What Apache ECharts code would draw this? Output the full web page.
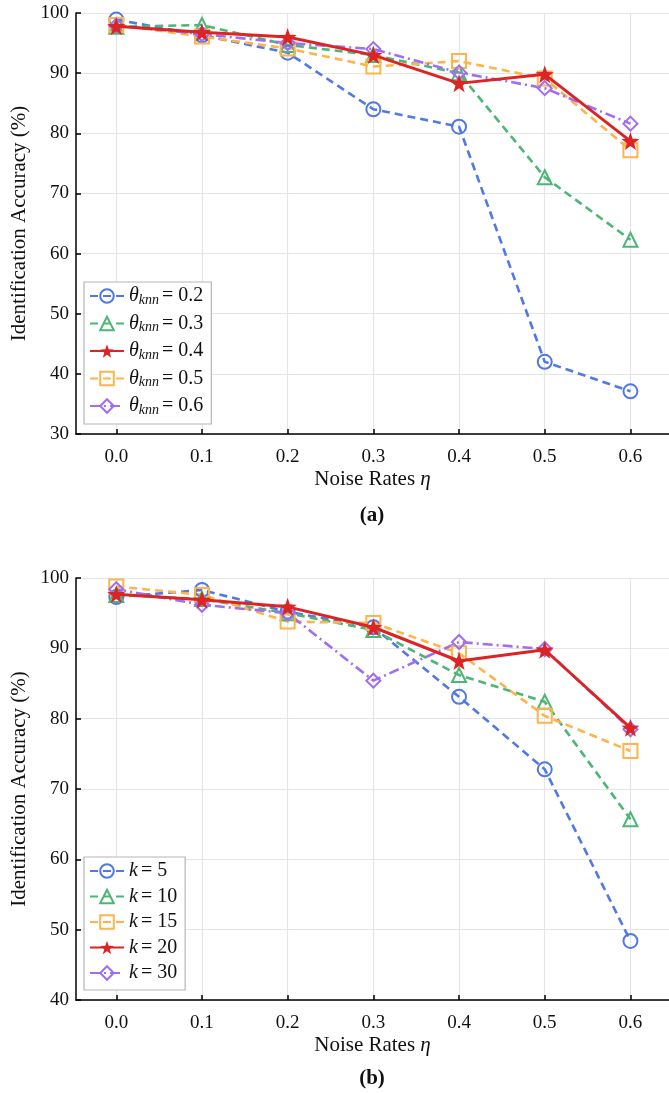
<!DOCTYPE html>
<html>
<head>
<meta charset="utf-8">
<script src="https://cdn.jsdelivr.net/npm/echarts@6/dist/echarts.min.js"></script>
<style>
  html, body { margin: 0; padding: 0; background: #fff; }
  #chart { width: 669px; height: 1093px; }
</style>
</head>
<body>
<div id="chart"></div>
<script>
// x values (noise rate)
var noiseRates = [0.0, 0.1, 0.2, 0.3, 0.4, 0.5, 0.6];

// (a) theta_knn
var thetaNames = ['0.2', '0.3', '0.4', '0.5', '0.6'];
var theta02 = [98.9, 96.3, 93.4, 84.0, 81.1, 42.0, 37.1];
var theta03 = [97.7, 98.0, 94.7, 93.0, 90.0, 72.7, 62.3];
var theta04 = [97.8, 96.8, 96.0, 93.0, 88.3, 89.8, 78.7];
var theta05 = [98.0, 96.1, 94.1, 91.1, 92.0, 89.1, 77.2];
var theta06 = [97.9, 96.5, 95.0, 94.0, 90.1, 87.5, 81.6];

// (b) k
var kNames = ['5', '10', '15', '20', '30'];
var k5  = [97.3, 98.3, 95.2, 93.0, 83.1, 72.8, 48.4];
var k10 = [97.6, 97.0, 95.0, 92.6, 86.2, 82.4, 65.7];
var k15 = [98.8, 97.6, 93.8, 93.6, 89.3, 80.4, 75.4];
var k20 = [97.7, 96.9, 95.9, 93.0, 88.2, 89.8, 78.7];
var k30 = [98.4, 96.2, 95.0, 85.4, 90.9, 89.9, 78.5];

var yTicksA = [30, 100];
var yTicksB = [40, 100];

// style slots: 0 blue circle, 1 green triangle, 2 red star, 3 orange square, 4 purple diamond
var colors = ['#5078e6', '#4db676', '#dd2424', '#fdb44b', '#a06ef2'];
var symbols = [
  'circle', 'triangle',
  'path://M0,-10 L2.35,-3.24 L9.51,-3.09 L3.8,1.24 L5.88,8.09 L0,4 L-5.88,8.09 L-3.8,1.24 L-9.51,-3.09 L-2.35,-3.24 Z',
  'rect', 'diamond'
];
var dashes = [[8, 5], [8, 5], 'solid', [8, 5], [10, 4, 2, 4]];
var styleA = [0, 1, 2, 3, 4];
var styleB = [0, 1, 3, 2, 4];

var font = '"Liberation Serif", "Times New Roman", serif';
var chart = echarts.init(document.getElementById('chart'));

function zip(vals) {
  return vals.map(function (v, i) { return [noiseRates[i], v]; });
}

function makeSeries(name, vals, idx, axisIdx) {
  var isStar = idx === 2;
  return {
    name: name,
    type: 'line',
    xAxisIndex: axisIdx,
    yAxisIndex: axisIdx,
    data: zip(vals),
    symbol: symbols[idx],
    symbolSize: isStar ? 18 : 14,
    z: isStar ? 5 : 2,
    lineStyle: {
      color: colors[idx],
      width: isStar ? 3 : 2.6,
      type: dashes[idx]
    },
    itemStyle: {
      color: isStar ? colors[idx] : 'rgba(255,255,255,0)',
      borderColor: colors[idx],
      borderWidth: isStar ? 0 : 2
    },
    emphasis: { disabled: true },
    animation: false
  };
}

function xAxis(gi) {
  return {
    type: 'value', gridIndex: gi,
    min: -0.047, max: 0.645,
    name: 'Noise Rates {e|η}',
    nameLocation: 'middle',
    nameGap: 35,
    nameTextStyle: {
      fontFamily: font, fontSize: 21, color: '#111',
      rich: { e: { fontFamily: font, fontSize: 21, fontStyle: 'italic', color: '#111' } }
    },
    axisLine: { show: true, onZero: false, lineStyle: { color: '#000', width: 1.5 } },
    axisTick: { show: true, inside: true, length: 5, customValues: noiseRates, lineStyle: { color: '#000', width: 1.5 } },
    axisLabel: {
      customValues: noiseRates, margin: 14,
      fontFamily: font, fontSize: 19, color: '#111',
      formatter: function (v) { return v.toFixed(1); }
    },
    splitLine: { show: true, lineStyle: { color: '#e5e5e5', width: 1.2 } }
  };
}

function yAxis(gi, ticks) {
  return {
    type: 'value', gridIndex: gi,
    min: ticks[0], max: ticks[1], interval: 10,
    name: 'Identification Accuracy (%)',
    nameLocation: 'middle',
    nameGap: 44,
    nameTextStyle: { fontFamily: font, fontSize: 21, color: '#111' },
    axisLine: { show: true, onZero: false, lineStyle: { color: '#000', width: 1.5 } },
    axisTick: { show: true, inside: true, length: 5, lineStyle: { color: '#000', width: 1.5 } },
    axisLabel: { margin: 7, fontFamily: font, fontSize: 19, color: '#111' },
    splitLine: { show: true, lineStyle: { color: '#e5e5e5', width: 1.2 } }
  };
}

function legend(names, top, fmt, gap) {
  return {
    data: names,
    orient: 'vertical',
    left: 84, top: top,
    padding: [4, 8, 7, 5],
    itemGap: gap,
    itemWidth: 34, itemHeight: 17,
    backgroundColor: '#fff',
    borderColor: '#b5b5b5', borderWidth: 1.2, borderRadius: 0,
    formatter: fmt,
    textStyle: {
      fontFamily: font, fontSize: 20, color: '#111',
      rich: {
        i: { fontFamily: font, fontSize: 20, fontStyle: 'italic', color: '#111', lineHeight: 22 },
        s: { fontFamily: font, fontSize: 14, fontStyle: 'italic', color: '#111', lineHeight: 10, verticalAlign: 'bottom' },
        t: { fontFamily: font, fontSize: 20, color: '#111', lineHeight: 22, padding: [0, 0, 0, 3] }
      }
    }
  };
}

var seriesA = [theta02, theta03, theta04, theta05, theta06].map(function (vals, i) {
  return makeSeries('theta' + thetaNames[i], vals, styleA[i], 0);
});
var seriesB = [k5, k10, k15, k20, k30].map(function (vals, i) {
  return makeSeries('k' + kNames[i], vals, styleB[i], 1);
});

chart.setOption({
  backgroundColor: '#fff',
  animation: false,
  grid: [
    { left: 76, right: 0, top: 13, height: 421 },
    { left: 76, right: 0, top: 578, height: 422 }
  ],
  xAxis: [xAxis(0), xAxis(1)],
  yAxis: [yAxis(0, yTicksA), yAxis(1, yTicksB)],
  legend: [
    legend(thetaNames.map(function (n) { return 'theta' + n; }), 282, function (name) {
      return '{i|θ}{s|knn}{t|= ' + name.replace('theta', '') + '}';
    }, 6.5),
    legend(kNames.map(function (n) { return 'k' + n; }), 857, function (name) {
      return '{i|k}{t|= ' + name.replace('k', '') + '}';
    }, 5.5)
  ],
  graphic: [
    { type: 'text', x: 372, y: 516, style: { text: '(a)', font: 'bold 21px ' + font, fill: '#111', textAlign: 'center', textVerticalAlign: 'middle' } },
    { type: 'text', x: 372, y: 1079, style: { text: '(b)', font: 'bold 21px ' + font, fill: '#111', textAlign: 'center', textVerticalAlign: 'middle' } }
  ],
  series: seriesA.concat(seriesB)
});
</script>
</body>
</html>
